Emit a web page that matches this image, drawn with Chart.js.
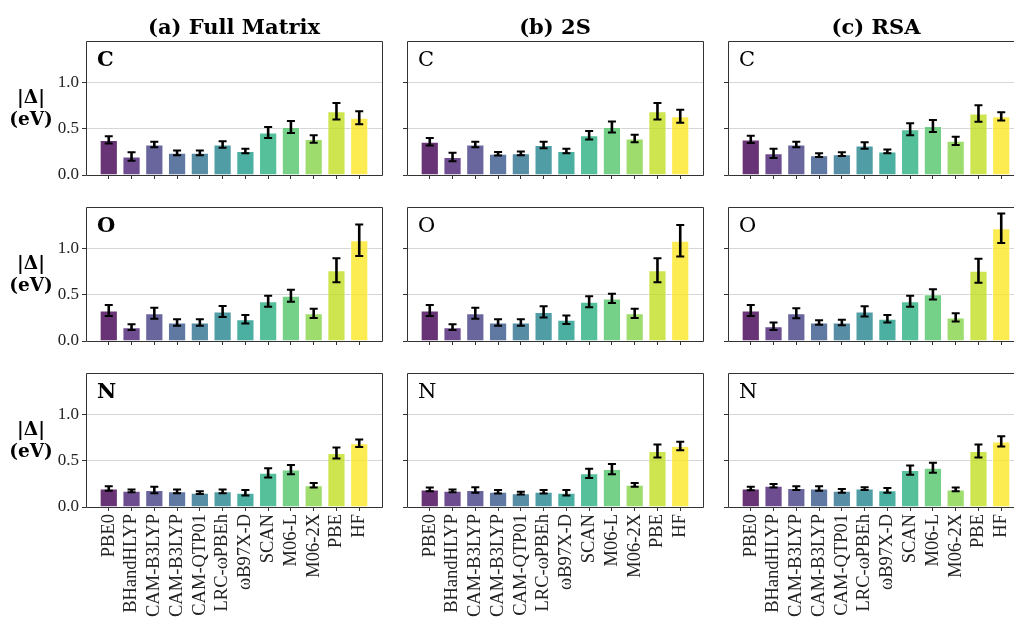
<!DOCTYPE html>
<html>
<head>
<meta charset="utf-8">
<script src="https://cdn.jsdelivr.net/npm/chart.js@4.4.1/dist/chart.umd.min.js"></script>
<style>
  html, body { margin: 0; padding: 0; width: 1014px; height: 622px; overflow: hidden; background: #fff; }
  #stage { position: absolute; left: 0; top: 0; width: 1014px; height: 622px; overflow: hidden; }
  canvas { position: absolute; }
  .col-title { position: absolute; top: 17px; width: 296px; text-align: center; white-space: nowrap;
    font: bold 21px 'DejaVu Serif'; line-height: 20px; color: #000; }
  .y-label { position: absolute; left: 0; width: 62px; text-align: center;
    font: bold 18.5px 'DejaVu Serif'; line-height: 22px; color: #000; }
</style>
</head>
<body>
<div id="stage"></div>
<script>
// Data
// ////////////////////////////////////////////////////////////////

const methods = ['PBE0', 'BHandHLYP', 'CAM-B3LYP', 'CAM-B3LYP', 'CAM-QTP01', 'LRC-ωPBEh',
  'ωB97X-D', 'SCAN', 'M06-L', 'M06-2X', 'PBE', 'HF'];
const columnTitles = ['(a) Full Matrix', '(b) 2S', '(c) RSA'];
const elements = ['C', 'O', 'N'];
const yTicks = [0, 0.5, 1.0];

// (a) Full Matrix
const fullC = [0.38, 0.20, 0.33, 0.24, 0.24, 0.33, 0.26, 0.46, 0.52, 0.39, 0.69, 0.62];
const fullCErr = [0.04, 0.045, 0.03, 0.025, 0.025, 0.035, 0.025, 0.06, 0.065, 0.04, 0.09, 0.07];
const fullO = [0.33, 0.15, 0.30, 0.20, 0.20, 0.32, 0.235, 0.43, 0.49, 0.30, 0.765, 1.09];
const fullOErr = [0.06, 0.03, 0.06, 0.035, 0.035, 0.06, 0.045, 0.06, 0.065, 0.05, 0.13, 0.17];
const fullN = [0.20, 0.175, 0.185, 0.17, 0.155, 0.17, 0.155, 0.37, 0.405, 0.235, 0.585, 0.69];
const fullNErr = [0.025, 0.015, 0.035, 0.02, 0.015, 0.02, 0.03, 0.05, 0.05, 0.025, 0.06, 0.04];

// (b) 2S
const twoSC = [0.36, 0.195, 0.33, 0.23, 0.235, 0.325, 0.26, 0.43, 0.52, 0.395, 0.69, 0.635];
const twoSCErr = [0.04, 0.045, 0.03, 0.02, 0.02, 0.035, 0.025, 0.045, 0.06, 0.04, 0.09, 0.07];
const twoSO = [0.33, 0.15, 0.30, 0.20, 0.20, 0.315, 0.23, 0.425, 0.46, 0.30, 0.765, 1.085];
const twoSOErr = [0.06, 0.03, 0.06, 0.035, 0.035, 0.06, 0.045, 0.06, 0.05, 0.05, 0.13, 0.17];
const twoSN = [0.19, 0.175, 0.185, 0.165, 0.15, 0.165, 0.155, 0.365, 0.41, 0.24, 0.605, 0.66];
const twoSNErr = [0.02, 0.015, 0.03, 0.02, 0.015, 0.02, 0.03, 0.05, 0.055, 0.02, 0.07, 0.045];

// (c) RSA
const rsaC = [0.385, 0.235, 0.33, 0.215, 0.225, 0.32, 0.255, 0.495, 0.53, 0.37, 0.665, 0.635];
const rsaCErr = [0.04, 0.05, 0.03, 0.02, 0.02, 0.035, 0.02, 0.065, 0.065, 0.045, 0.09, 0.045];
const rsaO = [0.33, 0.16, 0.30, 0.20, 0.20, 0.32, 0.24, 0.43, 0.505, 0.255, 0.76, 1.22];
const rsaOErr = [0.06, 0.04, 0.055, 0.025, 0.03, 0.055, 0.04, 0.06, 0.055, 0.045, 0.13, 0.16];
const rsaN = [0.20, 0.23, 0.205, 0.20, 0.175, 0.20, 0.18, 0.40, 0.425, 0.19, 0.605, 0.71];
const rsaNErr = [0.02, 0.02, 0.02, 0.025, 0.02, 0.015, 0.025, 0.05, 0.055, 0.02, 0.07, 0.055];

// viridis, one colour per method
const barColors = ['#440154', '#482173', '#433e85', '#38588c', '#2d708e', '#25858e',
  '#1e9b8a', '#2ab07f', '#52c569', '#86d549', '#c2df23', '#fde725'];

// rows = element, columns = method of partitioning
const panels = [
  [[fullC, fullCErr], [twoSC, twoSCErr], [rsaC, rsaCErr]],
  [[fullO, fullOErr], [twoSO, twoSOErr], [rsaO, rsaOErr]],
  [[fullN, fullNErr], [twoSN, twoSNErr], [rsaN, rsaNErr]],
];

// Layout
// ////////////////////////////////////////////////////////////////

const pageW = 1014;
const colLeft = [86, 407, 728];
const rowTop = [41, 207, 373];
const plotW = 296;
const plotH = 134;
const axisW = 45;
const padTop = 4;
const padRight = 4;
const xMin = -1;
const xMax = 12;

const stage = document.getElementById('stage');

/**
 * Turns a hex colour into rgba with the given alpha.
 */
function withAlpha(hex, a) {
  const n = parseInt(hex.slice(1), 16);
  return `rgba(${(n >> 16) & 255}, ${(n >> 8) & 255}, ${n & 255}, ${a})`;
}

// Plugins
// ////////////////////////////////////////////////////////////////

const errorBars = {
  id: 'errorBars',
  afterDatasetsDraw(chart) {
    const { ctx } = chart;
    const yScale = chart.scales.y;
    const ds = chart.data.datasets[0];
    const meta = chart.getDatasetMeta(0);
    ctx.save();
    ctx.strokeStyle = '#000';
    meta.data.forEach((bar, i) => {
      const v = ds.data[i].y;
      const top = yScale.getPixelForValue(v + ds.errors[i]);
      const bottom = yScale.getPixelForValue(v - ds.errors[i]);
      ctx.lineWidth = 2.6;
      ctx.beginPath();
      ctx.moveTo(bar.x, top);
      ctx.lineTo(bar.x, bottom);
      ctx.stroke();
      ctx.lineWidth = 2;
      ctx.beginPath();
      ctx.moveTo(bar.x - 4, top);
      ctx.lineTo(bar.x + 4, top);
      ctx.moveTo(bar.x - 4, bottom);
      ctx.lineTo(bar.x + 4, bottom);
      ctx.stroke();
    });
    ctx.restore();
  },
};

const frame = {
  id: 'frame',
  afterDraw(chart, args, opts) {
    const { ctx, chartArea: a } = chart;
    const l = Math.round(a.left) + 0.5;
    const t = Math.round(a.top) + 0.5;
    const r = Math.round(a.right) + 0.5;
    const b = Math.round(a.bottom) + 0.5;
    ctx.save();
    ctx.strokeStyle = '#333';
    ctx.lineWidth = 1;
    ctx.beginPath();
    if (opts.openRight) {
      ctx.moveTo(a.right + 2, t);
      ctx.lineTo(l, t);
      ctx.lineTo(l, b);
      ctx.lineTo(a.right + 2, b);
    } else {
      ctx.rect(l, t, r - l, b - t);
    }
    ctx.stroke();

    // element letter in the corner
    ctx.fillStyle = '#000';
    ctx.font = `${opts.bold ? 'bold ' : ''}21px "DejaVu Serif"`;
    ctx.textAlign = 'left';
    ctx.textBaseline = 'alphabetic';
    ctx.fillText(opts.letter, a.left + 11, a.top + 24.5);
    ctx.restore();
  },
};

// Build
// ////////////////////////////////////////////////////////////////

/**
 * Creates one panel of the grid.
 * @param {int} row Element row (C, O, N).
 * @param {int} col Partitioning column.
 */
function makePanel(row, col) {
  const [values, errors] = panels[row][col];
  const xH = row === 2 ? 115 : 8;
  const left = colLeft[col] - axisW;

  // the last column runs past the page edge: show only the part that fits
  const visibleW = Math.min(plotW, pageW - colLeft[col]);
  const cut = visibleW < plotW;
  const rightPad = cut ? 0 : padRight;
  const visibleMax = xMin + (xMax - xMin) * (visibleW / plotW);

  const w = axisW + visibleW + rightPad;
  const h = padTop + plotH + xH;

  const canvas = document.createElement('canvas');
  canvas.width = w;
  canvas.height = h;
  canvas.style.width = `${w}px`;
  canvas.style.height = `${h}px`;
  canvas.style.left = `${left}px`;
  canvas.style.top = `${rowTop[row] - padTop}px`;
  stage.appendChild(canvas);

  return new Chart(canvas.getContext('2d'), {
    type: 'bar',
    data: {
      datasets: [{
        data: values.map((v, i) => ({ x: i, y: v })),
        errors,
        backgroundColor: barColors.map(c => withAlpha(c, 0.8)),
        borderColor: 'rgba(255, 255, 255, 0.7)',
        borderWidth: 1,
        barPercentage: 0.8,
        categoryPercentage: 1.0,
      }],
    },
    options: {
      responsive: false,
      maintainAspectRatio: false,
      animation: false,
      events: [],
      layout: { padding: { top: padTop, right: rightPad, left: 0, bottom: 0 } },
      plugins: {
        legend: { display: false },
        tooltip: { enabled: false },
        frame: { letter: elements[row], bold: col === 0, openRight: cut },
      },
      scales: {
        x: {
          type: 'linear',
          min: xMin,
          max: visibleMax,
          offset: false,
          afterBuildTicks: (s) => { s.ticks = methods.map((m, i) => ({ value: i })); },
          afterFit: (s) => { s.height = xH; s.paddingLeft = 0; s.paddingRight = 0; },
          border: { display: false },
          grid: { offset: false, drawOnChartArea: false, tickColor: '#333', tickLength: 4, tickWidth: 1 },
          ticks: {
            display: row === 2,
            autoSkip: false,
            minRotation: 90,
            maxRotation: 90,
            padding: 3,
            color: '#222',
            font: { family: 'Liberation Serif', size: 18.5 },
            callback: (v, i) => methods[i],
          },
        },
        y: {
          min: 0,
          max: 1.45,
          afterBuildTicks: (s) => { s.ticks = yTicks.map(v => ({ value: v })); },
          afterFit: (s) => { s.width = axisW; s.paddingTop = 0; s.paddingBottom = 0; },
          border: { display: false },
          grid: {
            color: '#cccccc', lineWidth: 0.8, borderDash: [4, 3],
            tickColor: '#333', tickBorderDash: [], tickLength: 4, tickWidth: 1,
          },
          ticks: {
            display: col === 0,
            padding: 3,
            color: '#222',
            font: { family: 'Liberation Serif', size: 17 },
            callback: v => v.toFixed(1),
          },
        },
      },
    },
    plugins: [errorBars, frame],
  });
}

for (let r = 0; r < 3; r += 1) {
  for (let c = 0; c < 3; c += 1) makePanel(r, c);

  const yl = document.createElement('div');
  yl.className = 'y-label';
  yl.style.top = `${rowTop[r] + 44.5}px`;
  yl.innerHTML = '|Δ|<br>(eV)';
  stage.appendChild(yl);
}

columnTitles.forEach((t, c) => {
  const div = document.createElement('div');
  div.className = 'col-title';
  div.style.left = `${colLeft[c]}px`;
  div.textContent = t;
  stage.appendChild(div);
});
</script>
</body>
</html>
